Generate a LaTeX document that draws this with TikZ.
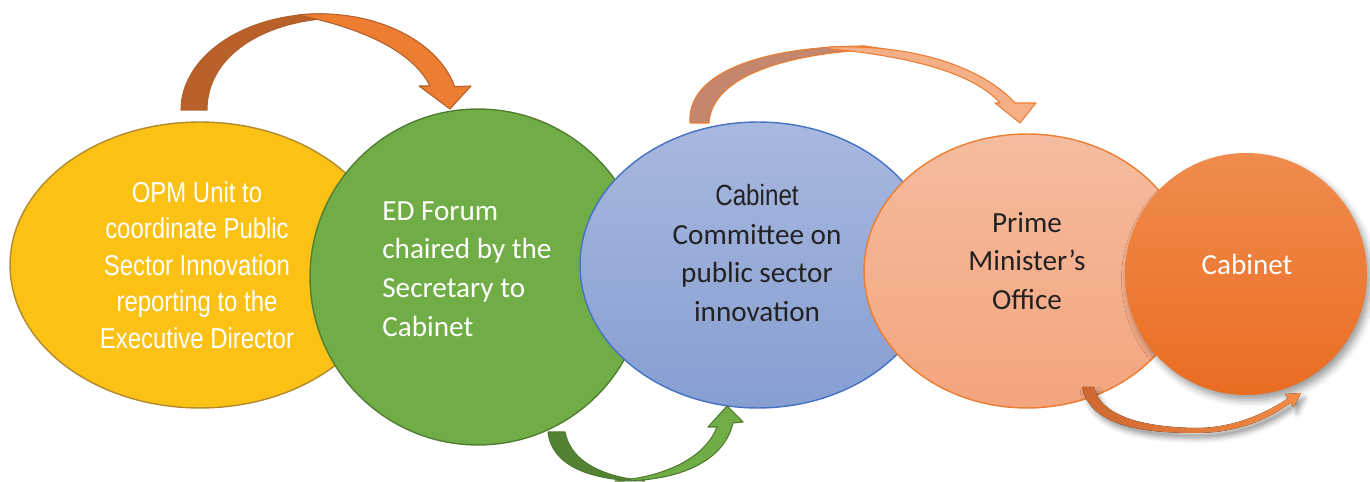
\documentclass[tikz,border=0pt]{standalone}
\usepackage{fontspec}
\setmainfont{Carlito}
\newfontfamily\narrowfont[FakeStretch=0.83]{Liberation Sans}
\usetikzlibrary{shapes.geometric, shadows.blur}

\definecolor{opmyellow}{HTML}{FBC115}
\definecolor{opmedge}{HTML}{B38B2D}
\definecolor{forumgreen}{HTML}{70AD47}
\definecolor{forumedge}{HTML}{507E32}
\definecolor{committeetop}{HTML}{A9B8DF}
\definecolor{committeebottom}{HTML}{869ED1}
\definecolor{committeeedge}{HTML}{4472C4}
\definecolor{pmotop}{HTML}{F5BC9F}
\definecolor{pmobottom}{HTML}{F4A47D}
\definecolor{pmoedge}{HTML}{ED7D31}
\definecolor{cabinettop}{HTML}{F08C4E}
\definecolor{cabinetbottom}{HTML}{E96D21}
\definecolor{darktext}{HTML}{222222}
\definecolor{oneback}{HTML}{B8612A}
\definecolor{onefront}{HTML}{ED7D31}
\definecolor{oneedge}{HTML}{B35F2B}
\definecolor{twoback}{HTML}{548235}
\definecolor{twofront}{HTML}{70AD47}
\definecolor{twoedge}{HTML}{4E7A2F}
\definecolor{threeback}{HTML}{C4866C}
\definecolor{threefront}{HTML}{F4AF87}
\definecolor{fourback}{HTML}{CF6830}
\definecolor{fourfront}{HTML}{F28B45}

\begin{document}
\begin{tikzpicture}[x=0.02cm, y=-0.02cm,
    bubble/.style={ellipse, inner sep=0pt, line width=0.8pt},
    disc/.style={circle, inner sep=0pt, line width=0.8pt},
    narrowlabel/.style={inner sep=0pt, font=\narrowfont\fontsize{16.4}{20.8}\selectfont},
    bodylabel/.style={inner sep=0pt, font=\fontsize{16.6}{22}\selectfont},
    blockarrow/.style={line width=0.6pt, line join=round}]

\useasboundingbox (0,0) rectangle (1370,482);

% Bubbles, back to front
\node[bubble, draw=opmedge, fill=opmyellow, minimum width=7.6cm, minimum height=5.72cm] (opm) at (200,265) {};
\node[narrowlabel, text=white, align=center] (opmlabel) at (197,265)
    {OPM Unit to\\coordinate Public\\Sector Innovation\\reporting to the\\Executive Director};

\node[disc, draw=forumedge, fill=forumgreen, minimum size=6.72cm] (forum) at (478,277) {};
\node[bodylabel, text=white, align=left, anchor=west] (forumlabel) at (382,269)
    {ED Forum\\chaired by the\\Secretary to\\Cabinet};

\node[bubble, draw=committeeedge, top color=committeetop, bottom color=committeebottom,
    minimum width=7.12cm, minimum height=5.72cm] (committee) at (758,265) {};
\node[bodylabel, text=darktext, align=center] (committeelabel) at (757,253)
    {{\narrowfont Cabinet}\\Committee on\\public sector\\innovation};

\node[bubble, draw=pmoedge, top color=pmotop, bottom color=pmobottom,
    minimum width=6.52cm, minimum height=5.48cm] (pmo) at (1027,271) {};
\node[bodylabel, text=darktext, align=center] (pmolabel) at (1027,261)
    {Prime\\Minister’s\\Office};

\node[disc, top color=cabinettop, bottom color=cabinetbottom, minimum size=4.84cm,
    blur shadow={shadow xshift=2pt, shadow yshift=-3pt, shadow blur radius=4pt}] (cabinet) at (1246,274) {};
\node[bodylabel, text=white] (cabinetlabel) at (1247,264) {Cabinet};

% OPM unit -> ED forum
\filldraw[blockarrow, draw=oneedge, fill=oneback]
    (181,110) arc[start angle=180, end angle=272, x radius=139, y radius=96]
    -- (337,18) .. controls (265,20) and (207,55) .. (207,110) -- cycle;
\filldraw[blockarrow, draw=oneedge, fill=onefront]
    (298,15) arc[start angle=261, end angle=346, x radius=139, y radius=96]
    -- (471,86) -- (450,109) -- (419,86) -- (430,86)
    .. controls (418,62) and (385,33) .. (298,15) -- cycle;

% ED forum -> cabinet committee
\filldraw[blockarrow, draw=twoedge, fill=twoback]
    (548,432) .. controls (552,468) and (595,481) .. (645,481)
    -- (625,478) .. controls (595,472) and (570,458) .. (565,432) -- cycle;
\filldraw[blockarrow, draw=twoedge, fill=twofront]
    (615,481) .. controls (685,482) and (725,458) .. (733,423)
    -- (743,422) -- (727,406) -- (708,427) -- (717,427)
    .. controls (705,458) and (665,477) .. (615,481) -- cycle;

% Cabinet committee -> Prime Minister's office
\filldraw[blockarrow, draw=pmoedge, fill=threeback]
    (690,123) .. controls (686,70) and (770,46) .. (865,46)
    -- (885,49) .. controls (790,52) and (712,75) .. (709,123) -- cycle;
\filldraw[blockarrow, draw=pmoedge, fill=threefront]
    (830,47) .. controls (930,44) and (990,75) .. (1015,103)
    -- (1036,103) -- (1020,123) -- (995,103) -- (1000,103)
    .. controls (980,80) and (930,58) .. (830,49) -- cycle;

% Prime Minister's office -> cabinet
\fill[left color=fourback, right color=fourfront,
    blur shadow={shadow xshift=2pt, shadow yshift=-3pt, shadow blur radius=3pt}]
    (1082,387) .. controls (1090,425) and (1140,433) .. (1195,433)
    .. controls (1240,433) and (1270,418) .. (1290.6,402.8)
    -- (1293.6,407.4) -- (1301,393) -- (1284.8,394) -- (1287.8,398.6)
    .. controls (1265,413) and (1235,428) .. (1195,428)
    .. controls (1140,427) and (1100,415) .. (1094,387) -- cycle;

\end{tikzpicture}
\end{document}
